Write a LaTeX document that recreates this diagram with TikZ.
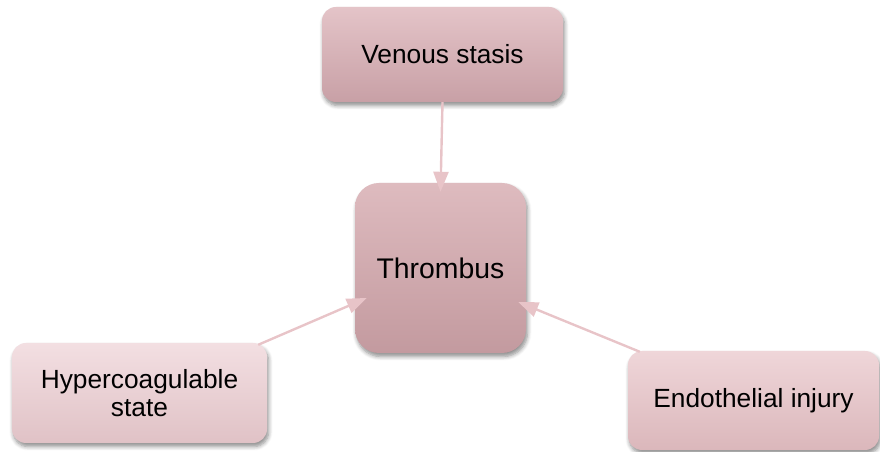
\documentclass[tikz,border=0pt]{standalone}
\usepackage{fontspec}
\setmainfont{Liberation Sans}
\usetikzlibrary{arrows.meta,shadows.blur}
\definecolor{venTop}{HTML}{E4C4C8}
\definecolor{venBot}{HTML}{C8A0A6}
\definecolor{thrTop}{HTML}{DEBBBF}
\definecolor{thrBot}{HTML}{C39A9F}
\definecolor{hypTop}{HTML}{F3DFE2}
\definecolor{hypBot}{HTML}{E0C2C6}
\definecolor{endTop}{HTML}{EFD6D9}
\definecolor{endBot}{HTML}{DBB7BB}
\definecolor{linkpink}{HTML}{E8C4C8}
\begin{document}
\begin{tikzpicture}[x=1bp,y=1bp,
  box/.style={rounded corners=14bp, inner sep=0pt, align=center,
    font=\fontsize{26.4}{28}\selectfont, text=black,
    blur shadow={shadow xshift=1.5bp, shadow yshift=-3.5bp,
      shadow blur radius=4bp, shadow blur steps=6, shadow opacity=45}},
  link/.style={draw=linkpink, line width=2.4bp,
    -{Triangle[length=20bp,width=15bp,fill=linkpink]}}]
\useasboundingbox (0,0) rectangle (880,452);

% cause and effect boxes
\node[box, minimum width=241bp, minimum height=95bp,
      top color=venTop, bottom color=venBot] (venous) at (442.5,397.5) {Venous stasis};
\node[box, rounded corners=24bp, minimum width=171bp, minimum height=170bp,
      top color=thrTop, bottom color=thrBot,
      font=\fontsize{28.5}{30}\selectfont] (thrombus) at (440.5,184) {Thrombus};
\node[box, minimum width=255bp, minimum height=100bp,
      top color=hypTop, bottom color=hypBot] (hyper) at (139.5,59) {Hypercoagulable\\state};
\node[box, minimum width=251bp, minimum height=99bp,
      top color=endTop, bottom color=endBot] (endo) at (753.5,51.5) {Endothelial injury};

% arrow ends
\coordinate (hypStart) at ([xshift=-9bp,yshift=-2bp]hyper.north east);
\coordinate (endStart) at ([xshift=12bp,yshift=-1bp]endo.north west);
\coordinate (thrTop) at ([yshift=-9bp]thrombus.north);
\coordinate (thrLeft) at ([xshift=12bp]thrombus.west |- 0,154);
\coordinate (thrRight) at ([xshift=-8bp]thrombus.east |- 0,150);

% connectors
\draw[link] (venous.south) -- (thrTop);
\draw[link] (hypStart) -- (thrLeft);
\draw[link] (endStart) -- (thrRight);
\end{tikzpicture}
\end{document}
